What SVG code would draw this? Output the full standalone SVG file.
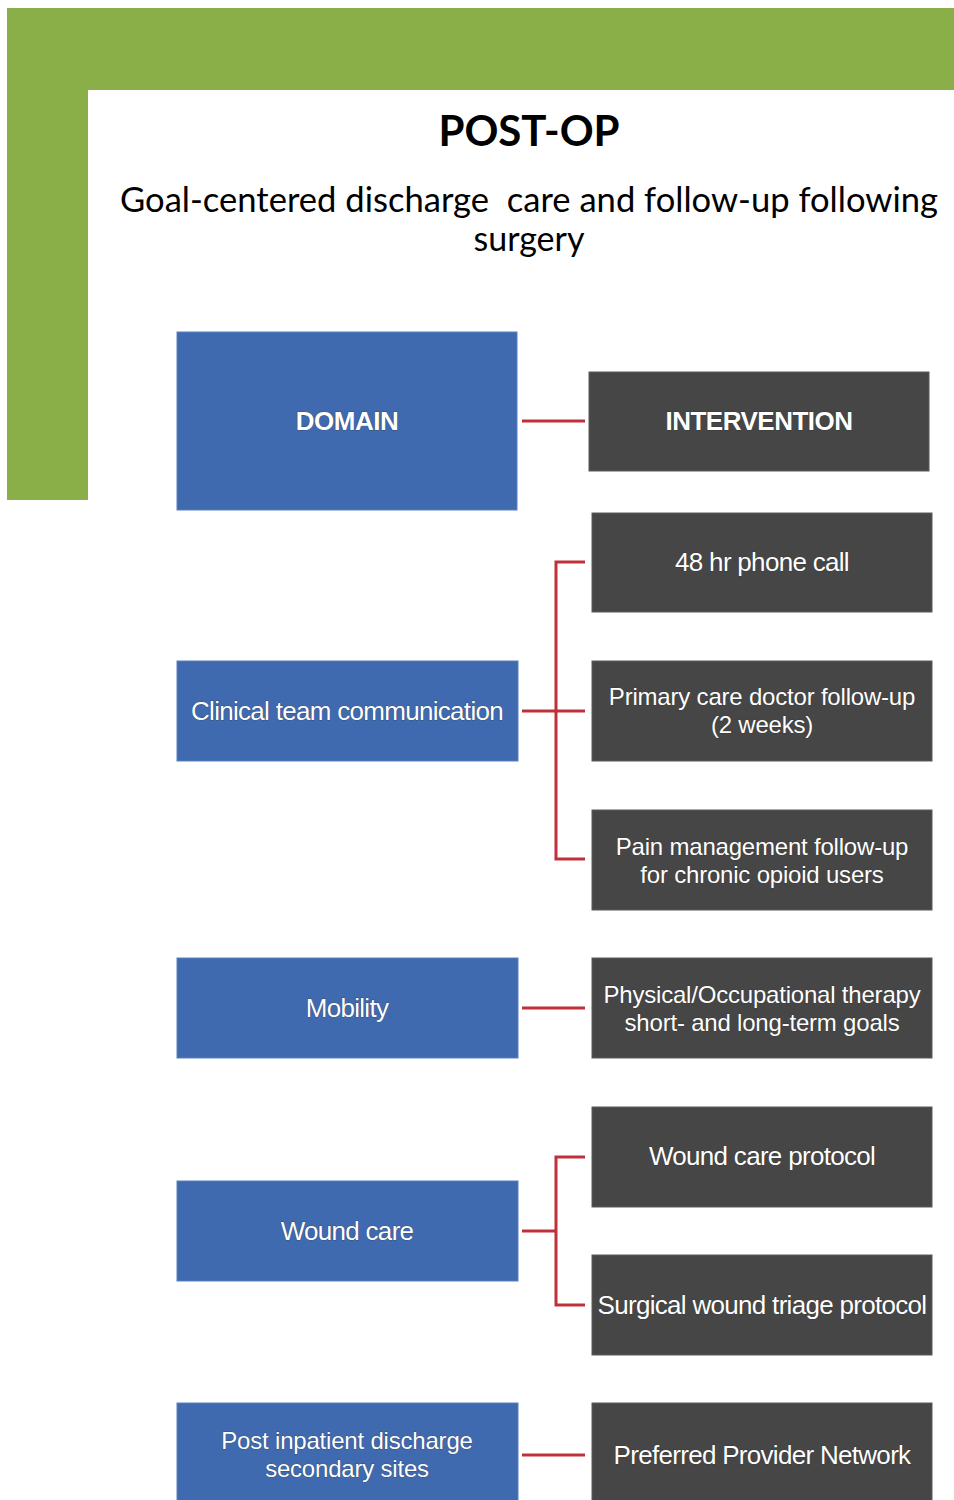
<svg xmlns="http://www.w3.org/2000/svg" width="954" height="1500" viewBox="0 0 954 1500">
<style>
.title{font-family:Lato,"Liberation Sans",sans-serif;font-weight:bold;font-size:42px;fill:#000;text-anchor:middle}
.sub{font-family:Lato,"Liberation Sans",sans-serif;font-size:34px;fill:#000;text-anchor:middle;white-space:pre}
.dom{fill:#3F6AB0;stroke:#5A80BE;stroke-width:1}
.int{fill:#464646;stroke:#5A5A5A;stroke-width:1}
.t{font-family:"Liberation Sans",Arial,sans-serif;font-size:26px;fill:#fff;text-anchor:middle;letter-spacing:-0.7px;stroke:#2a2a2a;stroke-width:0.5;paint-order:stroke}
.t2{font-size:24px;letter-spacing:-0.2px}
.tb{font-weight:bold;letter-spacing:-0.5px}
.c{fill:none;stroke:#C0303A;stroke-width:3}
</style>
<rect x="0" y="0" width="954" height="1500" fill="#fff"/>
<path d="M7 8 H954 V90 H88 V500 H7 Z" fill="#8AAE48"/>
<text class="title" x="529" y="146">POST-OP</text>
<text class="sub" x="529" y="212" xml:space="preserve" textLength="818" lengthAdjust="spacingAndGlyphs">Goal-centered discharge  care and follow-up following</text>
<text class="sub" x="529" y="251">surgery</text>
<g id="connectors">
<path class="c" d="M522 421 H585"/>
<path class="c" d="M522 711 H585 M585 562 H556 V859 H585"/>
<path class="c" d="M522 1008 H585"/>
<path class="c" d="M522 1231 H556 M585 1157 H556 V1305 H585"/>
<path class="c" d="M522 1455 H585"/>
</g>
<g id="domain"><rect class="dom" x="177" y="332" width="340" height="178"/><text class="t tb" x="347" y="430">DOMAIN</text></g>
<g id="intervention"><rect class="int" x="589" y="372" width="340" height="99"/><text class="t tb" x="759" y="430">INTERVENTION</text></g>
<g id="phone"><rect class="int" x="592" y="513" width="340" height="99"/><text class="t" x="762" y="571">48 hr phone call</text></g>
<g id="clinical"><rect class="dom" x="177" y="661" width="341" height="100"/><text class="t" x="347" y="720">Clinical team communication</text></g>
<g id="primary"><rect class="int" x="592" y="661" width="340" height="100"/><text class="t t2" x="762" y="705">Primary care doctor follow-up</text><text class="t t2" x="762" y="733">(2 weeks)</text></g>
<g id="pain"><rect class="int" x="592" y="810" width="340" height="100"/><text class="t t2" x="762" y="855">Pain management follow-up</text><text class="t t2" x="762" y="883">for chronic opioid users</text></g>
<g id="mobility"><rect class="dom" x="177" y="958" width="341" height="100"/><text class="t" x="347" y="1017">Mobility</text></g>
<g id="pt"><rect class="int" x="592" y="958" width="340" height="100"/><text class="t t2" x="762" y="1003">Physical/Occupational therapy</text><text class="t t2" x="762" y="1031">short- and long-term goals</text></g>
<g id="woundproto"><rect class="int" x="592" y="1107" width="340" height="100"/><text class="t" x="762" y="1165">Wound care protocol</text></g>
<g id="wound"><rect class="dom" x="177" y="1181" width="341" height="100"/><text class="t" x="347" y="1240">Wound care</text></g>
<g id="triage"><rect class="int" x="592" y="1255" width="340" height="100"/><text class="t" x="762" y="1314">Surgical wound triage protocol</text></g>
<g id="post"><rect class="dom" x="177" y="1403" width="341" height="100"/><text class="t t2" x="347" y="1449">Post inpatient discharge</text><text class="t t2" x="347" y="1477">secondary sites</text></g>
<g id="ppn"><rect class="int" x="592" y="1403" width="340" height="100"/><text class="t" x="762" y="1464">Preferred Provider Network</text></g>
</svg>
